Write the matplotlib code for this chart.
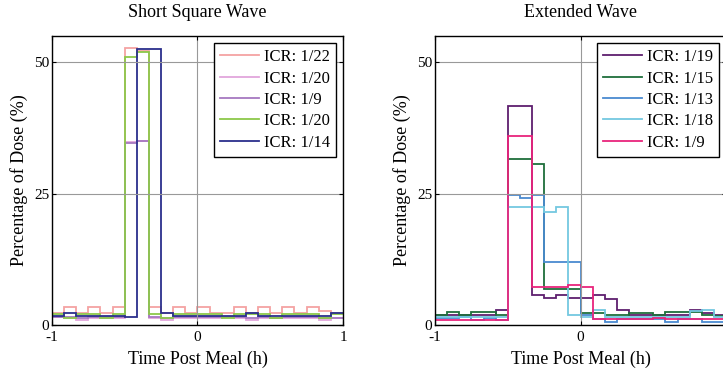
import numpy as np
import matplotlib
matplotlib.use("Agg")
import matplotlib.pyplot as plt

plt.rcParams['font.family'] = ['Liberation Serif', 'DejaVu Serif']

# 5-minute bins from -1 h to +1 h
bin_edges = np.linspace(-1, 1, 25)

# Short Square Wave
short_labels = ['ICR: 1/22', 'ICR: 1/20', 'ICR: 1/9', 'ICR: 1/20', 'ICR: 1/14']
short_colors = ['#f4a3a3', '#e2a6dc', '#a678c0', '#8cc84a', '#2b2f8c']
short_a = [2.3, 3.5, 2.3, 3.5, 2.3, 3.5, 52.8, 52.2, 3.5, 2.3, 3.5, 2.3,
           3.5, 2.3, 2.3, 3.5, 2.3, 3.5, 2.3, 3.5, 2.3, 3.5, 2.6, 2.3]
short_b = [1.6, 1.3, 1.0, 1.3, 1.3, 1.3, 34.8, 35.0, 1.3, 1.0, 1.3, 1.3,
           1.3, 1.3, 1.6, 1.3, 1.0, 1.3, 1.3, 1.3, 1.3, 1.3, 1.0, 1.3]
short_c = [1.6, 1.6, 1.3, 1.6, 1.6, 1.6, 34.7, 35.1, 1.6, 1.3, 1.6, 1.6,
           1.6, 1.6, 1.6, 1.6, 1.3, 1.6, 1.3, 1.6, 1.6, 1.6, 1.3, 1.3]
short_d = [2.1, 1.3, 2.1, 2.1, 1.3, 2.1, 51.0, 52.0, 2.1, 1.3, 2.1, 2.1,
           2.1, 2.1, 1.3, 2.1, 2.1, 2.1, 1.3, 2.1, 2.1, 2.1, 1.3, 2.1]
short_e = [1.7, 2.3, 1.7, 1.7, 1.7, 1.7, 1.5, 52.5, 52.5, 2.3, 1.7, 1.7,
           1.7, 1.7, 1.7, 1.7, 2.3, 1.7, 1.7, 1.7, 1.7, 1.7, 1.7, 2.3]

# Extended Wave
ext_labels = ['ICR: 1/19', 'ICR: 1/15', 'ICR: 1/13', 'ICR: 1/18', 'ICR: 1/9']
ext_colors = ['#5e1f6e', '#1f6e3c', '#4a8ad0', '#74c8e0', '#e8247c']
ext_a = [1.9, 1.9, 1.9, 1.9, 1.9, 2.9, 41.7, 41.7, 5.7, 5.1, 5.7, 5.1,
         5.1, 5.7, 4.9, 2.9, 1.9, 1.9, 1.9, 1.9, 1.9, 2.9, 2.2, 1.9]
ext_b = [2.0, 2.4, 2.0, 2.4, 2.4, 1.9, 31.6, 31.6, 30.7, 6.9, 6.9, 6.9,
         2.3, 2.3, 2.0, 2.0, 2.3, 2.3, 2.0, 2.4, 2.4, 2.4, 2.0, 1.7]
ext_c = [1.3, 1.3, 1.6, 1.0, 1.3, 1.0, 24.7, 24.1, 24.7, 11.9, 11.9, 11.9,
         1.9, 1.1, 0.6, 1.1, 1.1, 1.1, 1.1, 0.6, 1.1, 1.1, 0.6, 0.6]
ext_d = [1.6, 1.6, 1.6, 1.6, 1.6, 1.6, 22.5, 22.5, 22.5, 21.6, 22.5, 1.9,
         1.6, 2.9, 1.6, 1.6, 1.6, 1.6, 1.6, 1.6, 1.6, 2.7, 2.9, 1.6]
ext_e = [1.0, 1.0, 1.0, 1.0, 1.0, 1.0, 36.0, 36.0, 7.3, 7.3, 7.3, 7.6,
         7.3, 1.1, 1.1, 1.1, 1.1, 1.1, 1.4, 1.1, 1.1, 1.1, 1.1, 1.1]

x_ticks = [-1, 0, 1]
y_ticks = [0, 25, 50]


def draw_panel(ax, title, series, labels, colors, xlabels):
    for vals, lab, col in zip(series, labels, colors):
        ax.stairs(vals, bin_edges, baseline=None, color=col, lw=1.3, label=lab)
    ax.set_xlim(-1, 1)
    ax.set_ylim(0, 55)
    ax.set_xticks(x_ticks)
    ax.set_yticks(y_ticks)
    ax.set_xticklabels(xlabels)
    ax.grid(True, color='#999999', lw=0.8)
    ax.tick_params(direction='in', top=True, right=True, length=3,
                   labelsize=11, pad=2)
    ax.tick_params(axis='x', pad=4)
    for s in ax.spines.values():
        s.set_linewidth(1.0)
    ax.set_title(title, fontsize=13, pad=14)
    ax.set_xlabel('Time Post Meal (h)', fontsize=13, labelpad=5)
    ax.set_ylabel('Percentage of Dose (%)', fontsize=13, labelpad=4)
    leg = ax.legend(loc='upper right', fontsize=12, fancybox=False,
                    framealpha=1, edgecolor='black', handlelength=2.3,
                    handletextpad=0.3, borderpad=0.4, labelspacing=0.32,
                    borderaxespad=0.4)
    leg.get_frame().set_linewidth(1.0)


fig = plt.figure(figsize=(7.23, 3.72), dpi=100)
ax1 = fig.add_axes([0.0719, 0.1263, 0.4025, 0.777])
ax2 = fig.add_axes([0.6017, 0.1263, 0.4025, 0.777])

draw_panel(ax1, 'Short Square Wave',
           [short_a, short_b, short_c, short_d, short_e], short_labels,
           short_colors, ['-1', '0', '1'])
# the "1" of the right panel falls past the picture edge
draw_panel(ax2, 'Extended Wave',
           [ext_a, ext_b, ext_c, ext_d, ext_e], ext_labels,
           ext_colors, ['-1', '0', ''])

fig.savefig('out.png', dpi=100)
